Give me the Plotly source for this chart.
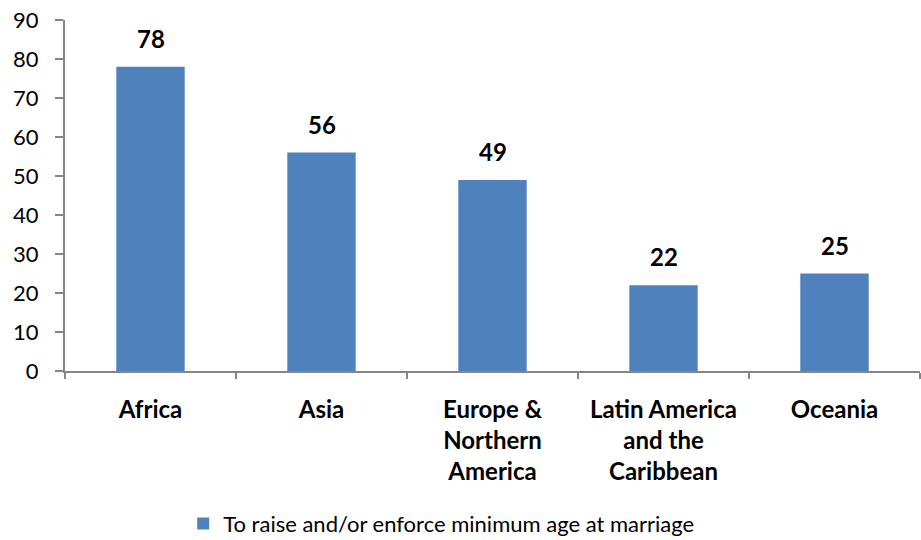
import plotly.graph_objects as go

categories = ["Africa", "Asia", "Europe &<br>Northern<br>America", "Latin America<br>and the<br>Caribbean", "Oceania"]
values = [78, 56, 49, 22, 25]
series_name = "To raise and/or enforce minimum age at marriage"
y_ticks = [0, 10, 20, 30, 40, 50, 60, 70, 80, 90]

FONT = "Lato"
BAR = "#4F81BD"
AXIS = "#868686"

fig = go.Figure()
fig.add_trace(go.Bar(
    x=categories, y=values, name=series_name,
    marker=dict(color=BAR, line=dict(width=0)),
    showlegend=True,
))

for c, v in zip(categories, values):
    fig.add_annotation(x=c, y=v, text=str(v), showarrow=False,
                       yanchor="bottom", yshift=12,
                       font=dict(family=FONT, size=24, color="black", weight="bold"))

fig.update_layout(
    width=921, height=540,
    margin=dict(l=65, r=1, t=20, b=169),
    paper_bgcolor="white", plot_bgcolor="white",
    bargap=0.6,
    font=dict(family=FONT, color="black"),
    showlegend=True,
    legend=dict(orientation="h", x=0.44, xanchor="center",
                yref="container", y=0.03, yanchor="middle",
                itemwidth=30,
                font=dict(family=FONT, size=22, color="black")),
    xaxis=dict(
        automargin=False,
        showline=True, linecolor=AXIS, linewidth=2,
        ticks="outside", tickson="boundaries", ticklen=6, tickcolor=AXIS, tickwidth=2,
        ticklabelstandoff=16, ticklabeloverflow="allow",
        tickfont=dict(family=FONT, size=24, color="black", weight="bold"),
        showgrid=False,
    ),
    yaxis=dict(
        automargin=False,
        range=[0, 90], tickvals=y_ticks,
        showline=True, linecolor=AXIS, linewidth=2,
        ticks="outside", ticklen=8, tickcolor=AXIS, tickwidth=2,
        ticklabelstandoff=12, ticklabeloverflow="allow",
        tickfont=dict(family=FONT, size=22, color="black"),
        showgrid=False, zeroline=False,
    ),
)

fig.write_html("out.html", config={"displayModeBar": False},
               post_script="document.body.style.margin='0';")
